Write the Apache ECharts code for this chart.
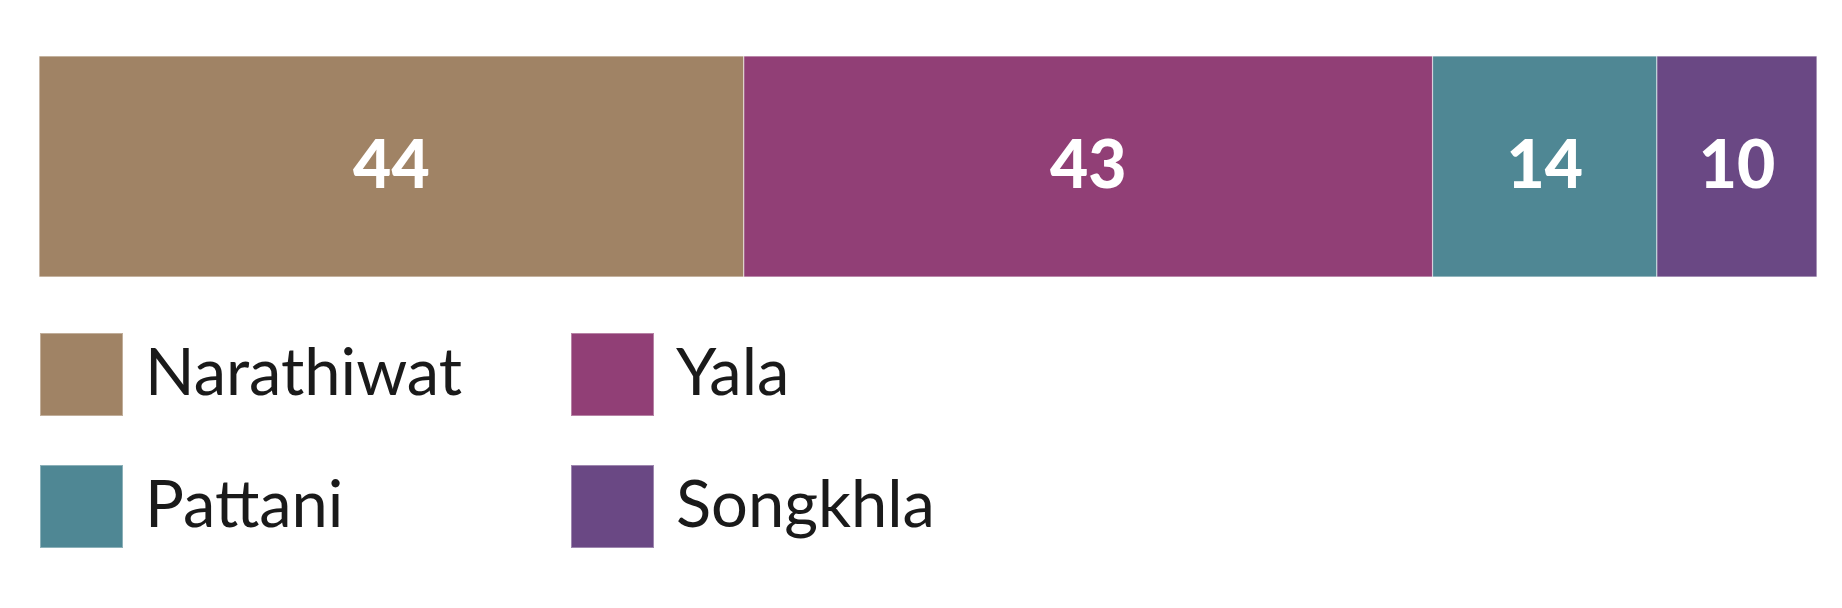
<!DOCTYPE html>
<html>
<head>
<meta charset="utf-8">
<style>
  html, body { margin: 0; padding: 0; background: #ffffff; }
  #chart { width: 1842px; height: 608px; }
</style>
<script src="https://cdn.jsdelivr.net/npm/echarts@6/dist/echarts.min.js"></script>
</head>
<body>
<div id="chart"></div>
<script>
const provinces = ['Narathiwat', 'Yala', 'Pattani', 'Songkhla'];
const values = [44, 43, 14, 10];
const colors = ['#A08365', '#913F76', '#4F8794', '#6A4884'];
const legendColumn1 = ['Narathiwat', 'Pattani'];
const legendColumn2 = ['Yala', 'Songkhla'];

const total = values.reduce((a, b) => a + b, 0);

const chart = echarts.init(document.getElementById('chart'), null, { renderer: 'canvas' });

const series = provinces.map((name, i) => ({
  name: name,
  type: 'bar',
  stack: 'total',
  data: [values[i]],
  barWidth: '100%',
  itemStyle: { color: colors[i], borderColor: 'rgba(255,255,255,0.35)', borderWidth: 0.6 },
  label: {
    show: true,
    position: 'inside',
    formatter: '{c}',
    color: '#ffffff',
    fontFamily: 'Lato',
    fontWeight: 900,
    fontSize: 66
  },
  emphasis: { disabled: true }
}));

const legendText = {
  fontFamily: 'Lato',
  fontSize: 65,
  color: '#1a1a1a',
  padding: [14, 0, 0, 17]
};

chart.setOption({
  animation: false,
  grid: { left: 39, right: 25, top: 56, height: 221, containLabel: false },
  xAxis: { type: 'value', min: 0, max: total, show: false },
  yAxis: { type: 'category', data: [''], show: false, inverse: true },
  legend: [
    {
      data: legendColumn1,
      orient: 'vertical',
      left: 39,
      top: 332,
      itemWidth: 83,
      itemHeight: 83,
      itemGap: 47,
      icon: 'rect',
      padding: 0,
      selectedMode: false,
      textStyle: legendText
    },
    {
      data: legendColumn2,
      orient: 'vertical',
      left: 570,
      top: 332,
      itemWidth: 83,
      itemHeight: 83,
      itemGap: 47,
      icon: 'rect',
      padding: 0,
      selectedMode: false,
      textStyle: legendText
    }
  ],
  series: series
});
</script>
</body>
</html>
